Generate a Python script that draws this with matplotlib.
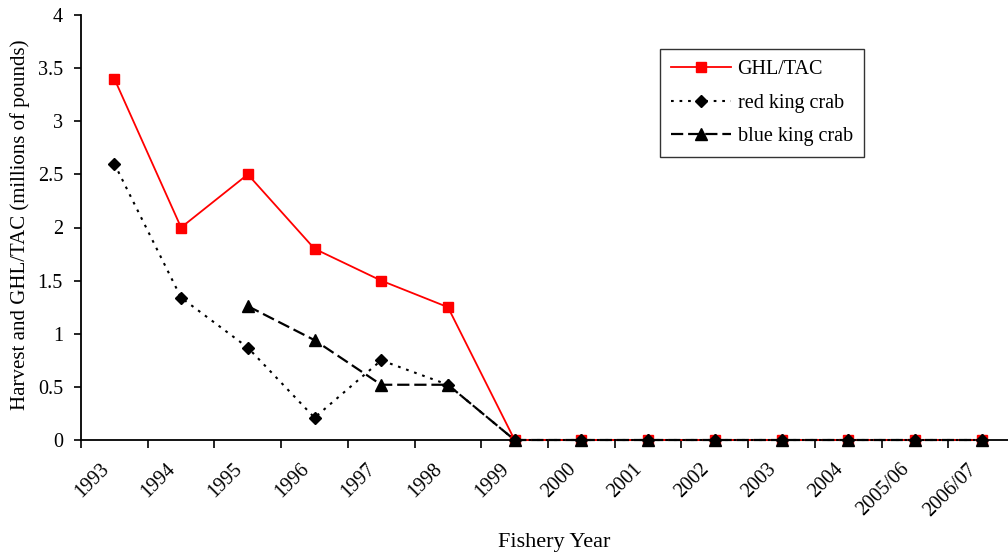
import numpy as np
import matplotlib
matplotlib.use("Agg")
import matplotlib.pyplot as plt
import matplotlib.transforms as mtransforms

years = ["1993", "1994", "1995", "1996", "1997", "1998", "1999", "2000",
         "2001", "2002", "2003", "2004", "2005/06", "2006/07"]
ghl_tac = [3.4, 2.0, 2.5, 1.8, 1.5, 1.25, 0, 0, 0, 0, 0, 0, 0, 0]
red_king = [2.6, 1.34, 0.87, 0.21, 0.75, 0.52, 0, 0, 0, 0, 0, 0, 0, 0]
blue_king = [np.nan, np.nan, 1.26, 0.94, 0.52, 0.52, 0, 0, 0, 0, 0, 0, 0, 0]

plt.rcParams["font.family"] = ["Liberation Serif", "DejaVu Serif"]

W, H = 1008, 556
fig = plt.figure(figsize=(W / 100, H / 100), dpi=100)
# excel-style plot area, category axis runs past the right edge
ax = fig.add_axes([81 / W, 1 - 440 / H, 934 / W, 425 / H])

x = np.arange(len(years))
ax.plot(x, ghl_tac, color="#ff0000", lw=1.3, marker="s", ms=7.5,
        label="GHL/TAC", zorder=3, clip_on=False)
ax.plot(x, red_king, color="black", lw=1.5, ls=(0, (1.3, 2.8)), marker="D",
        ms=6.5, label="red king crab", zorder=4, clip_on=False)
ax.plot(x, blue_king, color="black", lw=1.6, ls=(0, (5.5, 2.2)), marker="^",
        ms=8.5, label="blue king crab", zorder=5, clip_on=False)

ax.set_xlim(-0.5, len(years) - 0.5)
ax.set_ylim(0, 4)
ax.set_yticks(np.arange(0, 4.01, 0.5))
ax.set_yticklabels(["0", "0.5", "1", "1.5", "2", "2.5", "3", "3.5", "4"])
ax.set_xticks(x)
ax.set_xticklabels(years, rotation=45, ha="right", va="top",
                   rotation_mode="anchor")
ax.set_xticks(np.arange(-0.5, len(years), 1), minor=True)
ax.tick_params(axis="x", which="major", length=0, pad=0, labelsize=14.5)
ax.tick_params(axis="x", which="minor", length=6, width=1.2, direction="out")
ax.tick_params(axis="y", length=5, width=1.2, direction="out", labelsize=14.5,
               pad=8)

# shift the rotated year labels like the original
offset = mtransforms.ScaledTranslation(-0.15, -0.20, fig.dpi_scale_trans)
for lab in ax.get_xticklabels():
    lab.set_transform(lab.get_transform() + offset)

for s in ["top", "right"]:
    ax.spines[s].set_visible(False)
for s in ["left", "bottom"]:
    ax.spines[s].set_linewidth(1.3)

fig.text(20 / W, 1 - 225 / H, "Harvest and GHL/TAC (millions of pounds)",
         rotation=90, ha="center", va="center", fontsize=15)
fig.text(554 / W, 1 - 543 / H, "Fishery Year", ha="center",
         va="center", fontsize=16)

leg = ax.legend(loc="upper left", bbox_to_anchor=(660 / W, 1 - 49 / H),
                bbox_transform=fig.transFigure, borderaxespad=0,
                frameon=True, fancybox=False, edgecolor="black",
                fontsize=14.5, handlelength=3.0, handletextpad=0.3,
                borderpad=0.55, labelspacing=0.72)
leg.get_frame().set_linewidth(1.0)

fig.savefig("out.png", dpi=100)
